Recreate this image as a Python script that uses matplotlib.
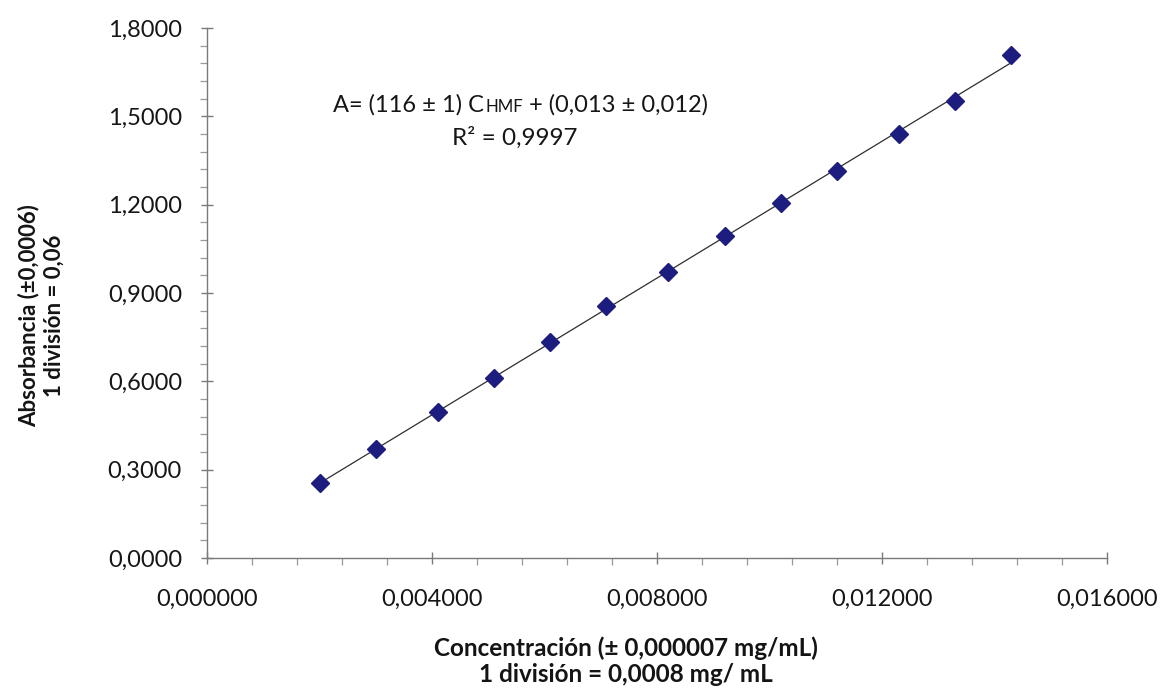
import numpy as np
import matplotlib
matplotlib.use("Agg")
import matplotlib.pyplot as plt
from matplotlib.ticker import MultipleLocator, FixedLocator, FuncFormatter

# Calibration data: HMF concentration (mg/mL) vs absorbance
conc = [0.0020, 0.0030, 0.0041, 0.0051, 0.0061, 0.0071, 0.0082,
        0.0092, 0.0102, 0.0112, 0.0123, 0.0133, 0.0143]
absorb = [0.256, 0.369, 0.496, 0.610, 0.735, 0.855, 0.972,
          1.093, 1.204, 1.313, 1.440, 1.552, 1.708]

x_ticks = [0.0, 0.004, 0.008, 0.012, 0.016]
y_ticks = [0.0, 0.3, 0.6, 0.9, 1.2, 1.5, 1.8]

eq_main = "A= (116 ± 1) C"
eq_sub = "HMF"
eq_tail = " + (0,013 ± 0,012)"
r2_text = "R² = 0,9997"

xlabel = "Concentración (± 0,000007 mg/mL)\n1 división = 0,0008 mg/ mL"
ylabel = "Absorbancia (±0,0006)\n1 división = 0,06"

plt.rcParams['font.family'] = ['Lato', 'DejaVu Sans']

W, H = 1162, 696
fig = plt.figure(figsize=(W / 100, H / 100), dpi=100)
fig.patch.set_facecolor("white")

ax = fig.add_axes([207 / W, 1 - 558 / H, 900 / W, 530 / H])
ax.set_xlim(x_ticks[0], x_ticks[-1])
ax.set_ylim(y_ticks[0], y_ticks[-1])

# least-squares trendline over the measured points
slope, intercept = np.polyfit(conc, absorb, 1)
xs = np.array([conc[0], conc[-1]])
ax.plot(xs, slope * xs + intercept, color="#2e2e2e", lw=0.9, zorder=2)

ax.plot(conc, absorb, linestyle="none", marker="D", markersize=9.3,
        color="#1d1d80", markeredgecolor="#1d1d80", zorder=3)

for side in ("top", "right"):
    ax.spines[side].set_visible(False)
for side in ("left", "bottom"):
    ax.spines[side].set_color("#7a7a7a")
    ax.spines[side].set_linewidth(1.0)

ax.xaxis.set_major_locator(FixedLocator(x_ticks))
ax.yaxis.set_major_locator(FixedLocator(y_ticks))
ax.xaxis.set_minor_locator(MultipleLocator(0.0008))
ax.yaxis.set_minor_locator(MultipleLocator(0.06))
ax.xaxis.set_major_formatter(FuncFormatter(lambda v, p: f"{v:.6f}".replace(".", ",")))
ax.yaxis.set_major_formatter(FuncFormatter(lambda v, p: f"{v:.4f}".replace(".", ",")))

ax.tick_params(axis="both", which="major", direction="inout", length=9,
               width=1.0, color="#7a7a7a", labelsize=17, labelcolor="#161616")
ax.tick_params(axis="both", which="minor", direction="out", length=5,
               width=0.9, color="#9a9a9a")
ax.tick_params(axis="x", which="major", pad=18)
ax.tick_params(axis="y", which="major", pad=13.5)

fig.text(626 / W, 1 - 661 / H, xlabel, ha="center", va="center",
         fontsize=17.5, fontweight="bold", color="#141414", linespacing=1.15)
fig.text(41 / W, 1 - 316 / H, ylabel, ha="center", va="center", rotation=90,
         fontsize=16, fontweight="bold", color="#141414", linespacing=1.25)

# regression equation with small-caps subscript label
eq_y = 1 - 112 / H
t1 = fig.text(0.3, eq_y, eq_main, ha="left", va="baseline",
              fontsize=17, color="#161616")
t2 = fig.text(0, eq_y, eq_sub, ha="left", va="baseline",
              fontsize=12.2, color="#161616")
t3 = fig.text(0, eq_y, eq_tail, ha="left", va="baseline",
              fontsize=17, color="#161616")
fig.text(515 / W, 1 - 145 / H, r2_text, ha="center", va="baseline",
         fontsize=17.5, color="#161616")

fig.canvas.draw()
r = fig.canvas.get_renderer()
w1 = t1.get_window_extent(r).width
w2 = t2.get_window_extent(r).width
w3 = t3.get_window_extent(r).width
x0 = 520 - (w1 + w2 + w3) / 2
t1.set_x(x0 / W)
t2.set_x((x0 + w1 + 1) / W)
t3.set_x((x0 + w1 + w2 + 1) / W)

fig.savefig("out.png", dpi=100, facecolor="white")
